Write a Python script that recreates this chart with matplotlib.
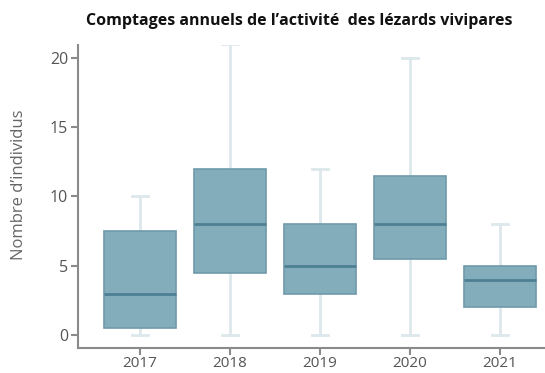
import matplotlib.pyplot as plt

years = ["2017", "2018", "2019", "2020", "2021"]
mins = [0, 0, 0, 0, 0]
q1s = [0.5, 4.5, 3, 5.5, 2]
medians = [3, 8, 5, 8, 4]
q3s = [7.5, 12, 8, 11.5, 5]
maxs = [10, 21, 12, 20, 8]

plt.rcParams['font.family'] = ['Open Sans', 'DejaVu Sans']

fig = plt.figure(figsize=(5.45, 3.73), dpi=100)
ax = fig.add_axes([0.143, 0.068, 0.857, 0.811])

stats = []
for y, lo, a, m, b, hi in zip(years, mins, q1s, medians, q3s, maxs):
    stats.append(dict(label=y, whislo=lo, q1=a, med=m, q3=b, whishi=hi, fliers=[]))

# light whiskers sit behind the boxes
bp = ax.bxp(stats, positions=range(len(years)), widths=0.8, patch_artist=True,
            showfliers=False,
            boxprops=dict(facecolor="#84adbb", edgecolor="#6f9aaa", linewidth=1.2),
            medianprops=dict(color="#4e8093", linewidth=2),
            whiskerprops=dict(color="#dde8ec", linewidth=2),
            capprops=dict(color="#dde8ec", linewidth=2),
            capwidths=0.18)
for box in bp["boxes"]:
    box.set_zorder(3)
for med in bp["medians"]:
    med.set_zorder(4)
for ln in bp["whiskers"] + bp["caps"]:
    ln.set_zorder(1)

ax.set_xlim(-0.69, 4.5)
ax.set_ylim(-0.9, 20.9)
ax.set_yticks([0, 5, 10, 15, 20])
ax.set_xticks(range(len(years)))
ax.set_xticklabels(years)

for s in ["top", "right"]:
    ax.spines[s].set_visible(False)
for s in ["left", "bottom"]:
    ax.spines[s].set_color("#8a8a8a")
    ax.spines[s].set_linewidth(1.5)
ax.tick_params(axis="both", colors="#8a8a8a", labelcolor="#555555", labelsize=11.5,
               length=5, width=1.5, pad=2)
ax.tick_params(axis="x", labelsize=11, pad=1)

ax.set_ylabel("Nombre d\u2019individus", color="#666666", fontsize=12)
ax.yaxis.set_label_coords(-0.109, 0.54)

fig.text(0.55, 0.945, "Comptages annuels de l\u2019activit\u00e9  des l\u00e9zards vivipares",
         ha="center", va="center", fontsize=11.5, fontweight="bold", color="#111111")

fig.savefig("out.png", dpi=100)
